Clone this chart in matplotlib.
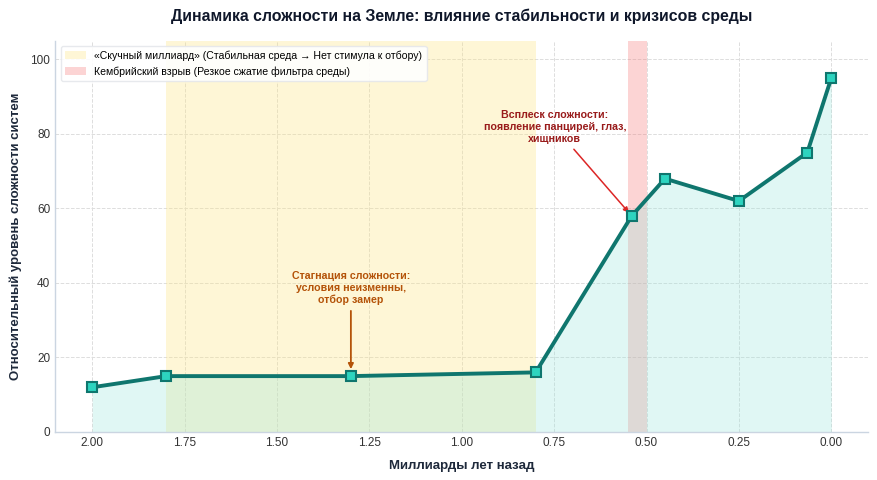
import matplotlib
matplotlib.use("Agg")
import matplotlib.pyplot as plt

plt.rcParams['font.family'] = ['Liberation Sans', 'DejaVu Sans']

# Data: billions of years ago vs relative complexity
years_ago = [2.0, 1.8, 1.3, 0.8, 0.54, 0.45, 0.25, 0.065, 0.0]
complexity = [12, 15, 15, 16, 58, 68, 62, 75, 95]

boring_span = (1.8, 0.8)
cambrian_span = (0.55, 0.50)

boring_label = '«Скучный миллиард» (Стабильная среда → Нет стимула к отбору)'
cambrian_label = 'Кембрийский взрыв (Резкое сжатие фильтра среды)'

stagnation_text = 'Стагнация сложности:\nусловия неизменны,\nотбор замер'
stagnation_point = (1.3, 15)
stagnation_text_pos = (1.3, 34)

burst_text = 'Всплеск сложности:\nпоявление панцирей, глаз,\nхищников'
burst_point = (0.54, 58)
burst_text_pos = (0.748, 77.2)

line_color = '#0f766e'
marker_face = '#2dd4bf'
spine_color = '#cbd5e1'

fig, ax = plt.subplots(figsize=(8.77, 4.8), dpi=100)

ax.axvspan(*boring_span, color='#fde68a', alpha=0.35, lw=0, label=boring_label)
ax.axvspan(*cambrian_span, color='#f87171', alpha=0.3, lw=0, label=cambrian_label)

ax.fill_between(years_ago, complexity, 0, color='#99e6dc', alpha=0.3, lw=0)
ax.plot(years_ago, complexity, color=line_color, lw=2.8, marker='s', markersize=7,
        markerfacecolor=marker_face, markeredgecolor=line_color, markeredgewidth=1.5,
        zorder=5)

ax.annotate(stagnation_text, xy=stagnation_point, xytext=stagnation_text_pos,
            ha='center', va='bottom', fontsize=7.7, fontweight='bold', color='#b45309',
            linespacing=1.25,
            arrowprops=dict(arrowstyle='-|>', color='#b45309', lw=1.3, shrinkB=5))
ax.annotate(burst_text, xy=burst_point, xytext=burst_text_pos,
            ha='center', va='bottom', fontsize=7.7, fontweight='bold', color='#991b1b',
            linespacing=1.25,
            arrowprops=dict(arrowstyle='-|>', color='#dc2626', lw=1.1, shrinkB=3))

ax.set_xlim(2.1, -0.1)
ax.set_ylim(0, 105)
ax.set_xticks([2.0, 1.75, 1.5, 1.25, 1.0, 0.75, 0.5, 0.25, 0.0])
ax.set_xticklabels(['2.00', '1.75', '1.50', '1.25', '1.00', '0.75', '0.50', '0.25', '0.00'])
ax.set_yticks([0, 20, 40, 60, 80, 100])
ax.tick_params(labelsize=8.5, colors='#333333', length=0, pad=3.5)

ax.grid(True, linestyle='--', color='#dddddd', lw=0.7)
ax.set_axisbelow(True)
for side in ['top', 'right']:
    ax.spines[side].set_visible(False)
for side in ['left', 'bottom']:
    ax.spines[side].set_color(spine_color)
    ax.spines[side].set_linewidth(1.0)

ax.set_title('Динамика сложности на Земле: влияние стабильности и кризисов среды',
             fontsize=11.4, fontweight='bold', color='#0f172a', pad=14)
ax.set_xlabel('Миллиарды лет назад', fontsize=9.5, fontweight='bold', color='#1e293b', labelpad=8)
ax.set_ylabel('Относительный уровень сложности систем', fontsize=9.5, fontweight='bold',
              color='#1e293b', labelpad=6)

ax.legend(loc='upper left', fontsize=7.6, frameon=True, facecolor='white', edgecolor='#e5e7eb',
          framealpha=0.9)

fig.subplots_adjust(left=0.063, right=0.99, top=0.915, bottom=0.1)
fig.savefig('out.png', dpi=100)
